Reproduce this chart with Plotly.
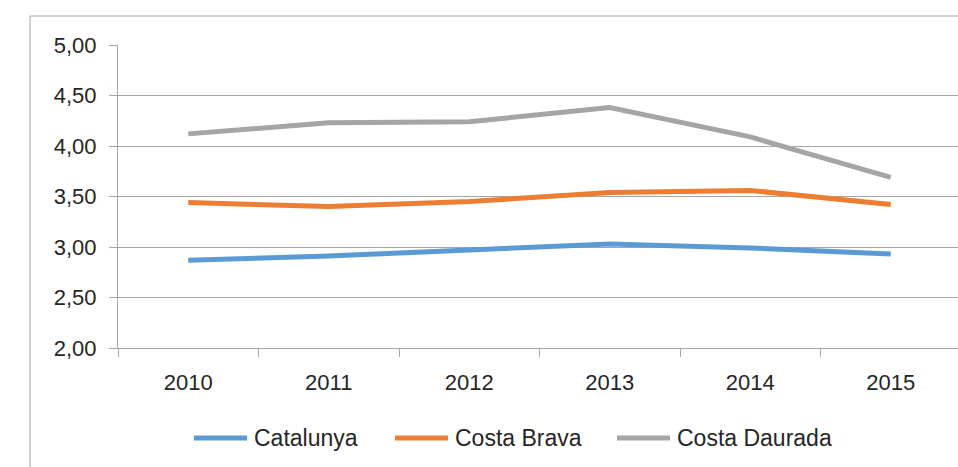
import plotly.graph_objects as go

years = ["2010", "2011", "2012", "2013", "2014", "2015"]
catalunya = [2.87, 2.91, 2.97, 3.03, 2.99, 2.93]
costa_brava = [3.44, 3.40, 3.45, 3.54, 3.56, 3.42]
costa_daurada = [4.12, 4.23, 4.24, 4.38, 4.09, 3.69]
y_ticks = [2.0, 2.5, 3.0, 3.5, 4.0, 4.5, 5.0]
y_tick_text = ["2,00", "2,50", "3,00", "3,50", "4,00", "4,50", "5,00"]

series = [
    ("Catalunya", catalunya, "#5B9BD5"),
    ("Costa Brava", costa_brava, "#ED7D31"),
    ("Costa Daurada", costa_daurada, "#A5A5A5"),
]

FONT = "Liberation Sans, Arial, sans-serif"
TXT = "#262626"
AX = "#A6A6A6"

W, H = 958, 467
L, R, T, B = 118, 0, 45, 119
pw = W - L - R
ph = H - T - B


def px(x):
    return (x - L) / pw


def py(y):
    return ((H - B) - y) / ph


fig = go.Figure()
for name, vals, col in series:
    fig.add_trace(go.Scatter(x=years, y=vals, name=name, mode="lines",
                             line=dict(color=col, width=5), showlegend=False))

# custom legend (long line swatches like the original)
legend_swatch_x = [192, 393, 615]
legend_y = 438
shapes = [dict(type="rect", xref="paper", yref="paper",
               x0=px(30), x1=1.05, y0=py(H + 20), y1=py(16),
               line=dict(color=AX, width=1), fillcolor="rgba(0,0,0,0)",
               layer="below")]
annotations = []
for (name, _, col), sx in zip(series, legend_swatch_x):
    shapes.append(dict(type="line", xref="paper", yref="paper",
                       x0=px(sx + 2), x1=px(sx + 55), y0=py(legend_y), y1=py(legend_y),
                       line=dict(color=col, width=5)))
    annotations.append(dict(text=name, xref="paper", yref="paper",
                            x=px(sx + 60), y=py(legend_y), xanchor="left",
                            yanchor="middle", showarrow=False,
                            font=dict(family=FONT, size=23, color=TXT)))

fig.update_layout(
    width=W, height=H,
    margin=dict(l=L, r=R, t=T, b=B, pad=0, autoexpand=False),
    paper_bgcolor="white", plot_bgcolor="white",
    font=dict(family=FONT, size=22, color=TXT),
    showlegend=False,
    xaxis=dict(type="category", range=[-0.5, 5.5 - 3 / 140.5],
               showgrid=False, showline=True, linecolor=AX, linewidth=1,
               ticks="outside", tickson="boundaries", ticklen=8, tickcolor=AX,
               tickfont=dict(family=FONT, size=22, color=TXT),
               zeroline=False, automargin=False, ticklabelstandoff=15),
    yaxis=dict(range=[2.0, 5.0], tickvals=y_ticks, ticktext=y_tick_text,
               showgrid=True, gridcolor=AX, gridwidth=1,
               showline=True, linecolor=AX, linewidth=1,
               ticks="outside", ticklen=8, tickcolor=AX,
               tickfont=dict(family=FONT, size=22, color=TXT),
               zeroline=False, automargin=False, ticklabelstandoff=8),
    shapes=shapes,
    annotations=annotations,
)

fig.write_html("out.html", config={"displayModeBar": False},
               post_script="document.body.style.margin='0';document.body.style.overflow='hidden';")
